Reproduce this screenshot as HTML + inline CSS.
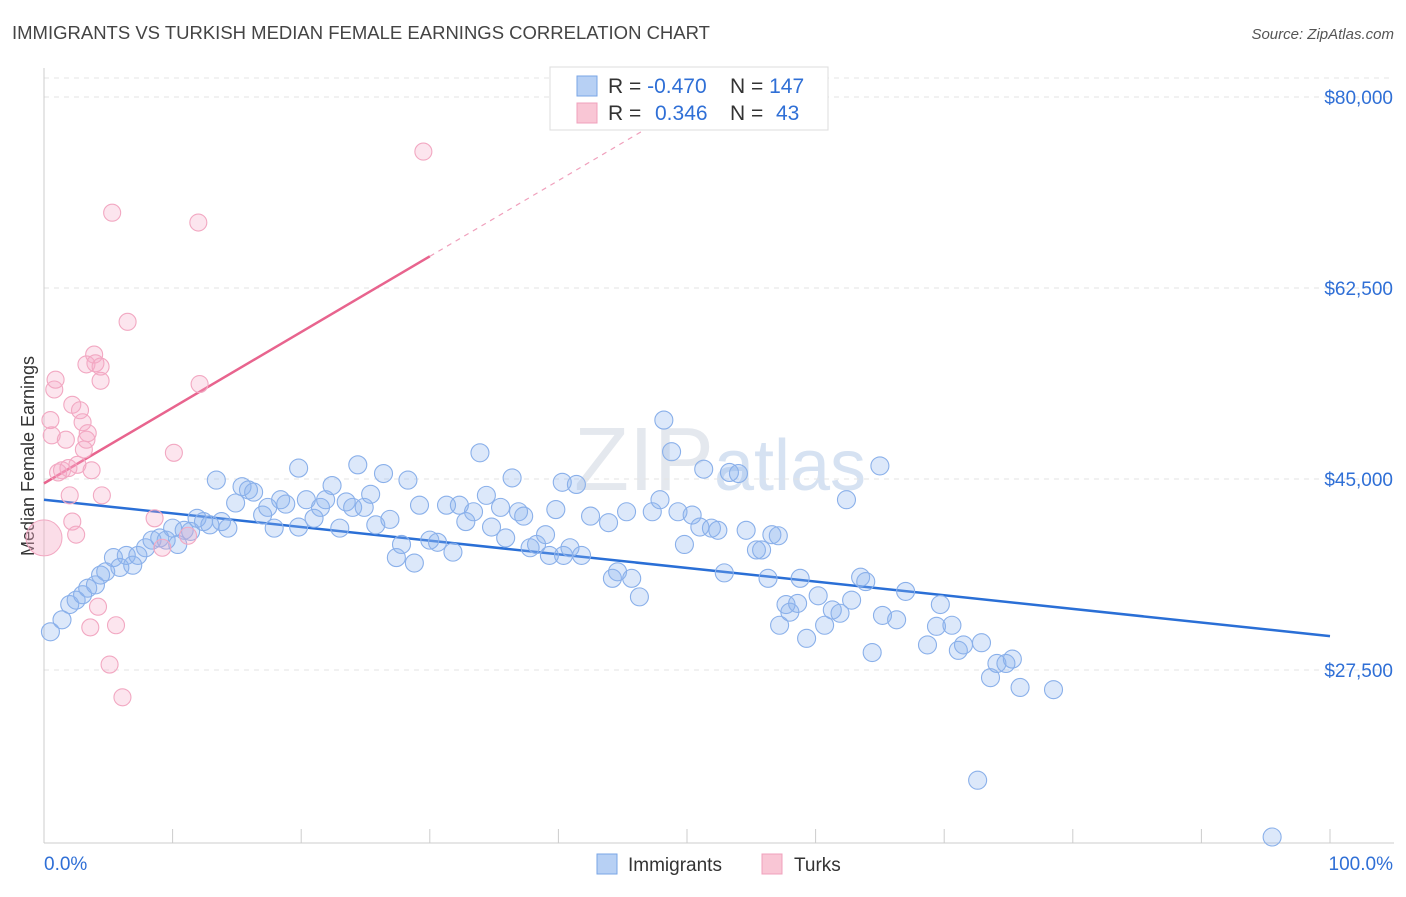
<!DOCTYPE html>
<html><head><meta charset="utf-8"><style>
body{margin:0;background:#fff;font-family:"Liberation Sans",sans-serif}
svg text{font-family:"Liberation Sans",sans-serif}
</style></head><body>
<svg id="chart" width="1406" height="892" xmlns="http://www.w3.org/2000/svg">
<text x="12" y="39" font-size="18.5" fill="#444">IMMIGRANTS VS TURKISH MEDIAN FEMALE EARNINGS CORRELATION CHART</text>
<text x="1394" y="39" font-size="15" fill="#555" font-style="italic" text-anchor="end">Source: ZipAtlas.com</text>
<text x="720" y="490" font-size="90" fill="#e4e8ee" text-anchor="middle" font-family="Liberation Serif">ZIP<tspan fill="#d6e2f2" font-family="Liberation Sans" font-size="72">atlas</tspan></text>
<g id="grid"></g>
<g id="axes"></g>
<text transform="translate(34,456) rotate(-90)" font-size="18" fill="#333" text-anchor="middle">Median Female Earnings</text>
<g id="lines"></g>
<g id="points"></g>
<g>
<rect x="550" y="67" width="278" height="63" fill="#fff" stroke="#ddd"/>
<rect x="577" y="76" width="20" height="20" fill="#b7d0f4" stroke="#7aa6e6"/>
<rect x="577" y="103" width="20" height="20" fill="#f9c6d5" stroke="#f0a0bc"/>
<text x="608" y="93" font-size="21" fill="#333">R = <tspan fill="#2f6fd6">-0.470</tspan></text>
<text x="730" y="93" font-size="21" fill="#333">N = <tspan fill="#2f6fd6">147</tspan></text>
<text x="608" y="120" font-size="21" fill="#333">R = </text><text x="655" y="120" font-size="21" fill="#2f6fd6">0.346</text>
<text x="730" y="120" font-size="21" fill="#333">N = </text><text x="776" y="120" font-size="21" fill="#2f6fd6">43</text>
</g>
<g>
<rect x="597" y="854" width="20" height="20" fill="#b7d0f4" stroke="#7aa6e6"/>
<text x="628" y="871" font-size="19" fill="#333">Immigrants</text>
<rect x="762" y="854" width="20" height="20" fill="#f9c6d5" stroke="#f0a0bc"/>
<text x="794" y="871" font-size="19" fill="#333">Turks</text>
</g>
</svg>
<script>
const yTicks=[80000,62500,45000,27500];
const yTickLabels=["$80,000","$62,500","$45,000","$27,500"];
const xEndLabels=["0.0%","100.0%"];
const immX=[0.5,1.4,2.0,2.5,3.0,3.4,4.0,4.4,4.8,5.4,5.9,6.4,6.9,7.3,7.9,8.4,9.0,9.5,10.0,10.4,10.9,11.4,11.9,12.4,12.9,13.4,13.8,14.3,14.9,15.4,15.9,16.3,17.0,17.4,17.9,18.4,18.8,19.8,19.8,20.4,21.0,21.5,21.9,22.4,23.0,23.5,24.0,24.4,24.9,25.4,25.8,26.4,26.9,27.4,27.8,28.3,28.8,29.2,30.0,30.6,31.3,31.8,32.3,32.8,33.4,33.9,34.4,34.8,35.5,35.9,36.4,36.9,37.3,37.8,38.3,39.0,39.3,39.8,40.3,40.4,40.9,41.4,41.8,42.5,43.9,44.2,44.6,45.3,45.7,46.3,47.3,47.9,48.2,48.8,49.3,49.8,50.4,51.0,51.3,51.9,52.4,52.9,53.3,54.0,54.6,55.4,55.8,56.3,56.6,57.1,57.2,57.7,58.0,58.6,58.8,59.3,60.2,60.7,61.3,61.9,62.4,62.8,63.5,63.9,64.4,65.0,65.2,66.3,67.0,68.7,69.4,69.7,70.6,71.1,71.5,72.9,73.6,74.1,74.8,75.3,75.9,78.5,72.6,95.5];
const immY=[31.0,32.1,33.5,33.9,34.4,35.0,35.3,36.2,36.5,37.8,36.9,38.0,37.1,38.0,38.7,39.4,39.6,39.4,40.5,39.0,40.3,40.2,41.4,41.1,40.8,44.9,41.1,40.5,42.8,44.3,44.0,43.8,41.7,42.4,40.5,43.1,42.7,40.6,46.0,43.1,41.4,42.4,43.1,44.4,40.5,42.9,42.4,46.3,42.4,43.6,40.8,45.5,41.3,37.8,39.0,44.9,37.3,42.6,39.4,39.2,42.6,38.3,42.6,41.1,42.0,47.4,43.5,40.6,42.4,39.6,45.1,42.0,41.6,38.7,39.0,39.9,38.0,42.2,44.7,38.0,38.7,44.5,38.0,41.6,41.0,35.9,36.5,42.0,35.9,34.2,42.0,43.1,50.4,47.5,42.0,39.0,41.7,40.6,45.9,40.5,40.3,36.4,45.6,45.5,40.3,38.5,38.5,35.9,39.9,39.8,31.6,33.5,32.8,33.6,35.9,30.4,34.3,31.6,33.0,32.7,43.1,33.9,36.0,35.6,29.1,46.2,32.5,32.1,34.7,29.8,31.5,33.5,31.6,29.3,29.8,30.0,26.8,28.1,28.1,28.5,25.9,25.7,17.4,12.2];
const turkX=[0.5,0.6,0.8,0.9,1.1,1.4,1.7,1.9,2.0,2.2,2.2,2.5,2.6,2.8,3.0,3.1,3.3,3.3,3.4,3.6,3.7,3.9,4.0,4.2,4.4,4.4,4.5,5.1,5.3,5.6,6.1,6.5,8.6,9.2,10.1,11.2,12.0,12.1,29.5];
const turkY=[50.4,49.0,53.2,54.1,45.6,45.8,48.6,46.0,43.5,41.1,51.8,39.9,46.3,51.3,50.2,47.7,55.5,48.6,49.2,31.4,45.8,56.4,55.6,33.3,54.0,55.3,43.5,28.0,69.4,31.6,25.0,59.4,41.4,38.7,47.4,39.8,68.5,53.7,75.0];
const bigTurkX=[0], bigTurkY=[39.6];
const immTrend=[43.1,30.6];
const turkTrend=[44.6,65.4,77.9];
const turkTrendX=[0,30,48];

const NS="http://www.w3.org/2000/svg";
const xs=p=>44+p*12.86;
const ys=k=>97+(80-k)*191/17.5;
function mk(tag,attrs,parent){const e=document.createElementNS(NS,tag);for(const k in attrs)e.setAttribute(k,attrs[k]);parent.appendChild(e);return e;}
const grid=document.getElementById('grid'),axes=document.getElementById('axes'),lines=document.getElementById('lines'),pts=document.getElementById('points');
mk('line',{x1:44,y1:78,x2:1394,y2:78,stroke:'#e6e6e6','stroke-dasharray':'5,5'},grid);
yTicks.forEach((t,i)=>{
  const y=ys(t/1000);
  const g=mk('line',{x1:44,y1:y,x2:1394,y2:y,stroke:'#e3e3e3','stroke-dasharray':'5,5'},grid);
  
  
  const tx=mk('text',{x:1393,y:y+7,'font-size':19,fill:'#2f6fd6','text-anchor':'end'},axes);
  tx.textContent=yTickLabels[i];
  
  
});
mk('line',{x1:44,y1:68,x2:44,y2:843,stroke:'#ccc'},axes);
mk('line',{x1:44,y1:843,x2:1394,y2:843,stroke:'#ccc'},axes);
for(let i=0;i<=10;i++){const t=mk('line',{x1:xs(i*10),y1:829,x2:xs(i*10),y2:843,stroke:'#ccc'},axes);
  
  }
const l0=mk('text',{x:44,y:870,'font-size':19,fill:'#2f6fd6'},axes);l0.textContent=xEndLabels[0];


const l1=mk('text',{x:1393,y:870,'font-size':19,fill:'#2f6fd6','text-anchor':'end'},axes);l1.textContent=xEndLabels[1];



immX.forEach((x,i)=>{const c=mk('circle',{cx:xs(x),cy:ys(immY[i]),r:9,fill:'rgba(140,180,240,0.3)',stroke:'#8ab0ea','stroke-width':1.1},pts);
  
  });
turkX.forEach((x,i)=>{const c=mk('circle',{cx:xs(x),cy:ys(turkY[i]),r:8.5,fill:'rgba(245,170,198,0.3)',stroke:'#f2a8c2','stroke-width':1.1},pts);
  
  });
bigTurkX.forEach((x,i)=>{const c=mk('circle',{cx:xs(x),cy:ys(bigTurkY[i]),r:18,fill:'rgba(245,170,198,0.4)',stroke:'#f2a8c2'},pts);
  
  });

const bl=mk('line',{x1:xs(0),y1:ys(immTrend[0]),x2:xs(100),y2:ys(immTrend[1]),stroke:'#2a6fd6','stroke-width':2.5},lines);


const pl=mk('line',{x1:xs(turkTrendX[0]),y1:ys(turkTrend[0]),x2:xs(turkTrendX[1]),y2:ys(turkTrend[1]),stroke:'#e8648e','stroke-width':2.5},lines);


const pd=mk('line',{x1:xs(turkTrendX[1]),y1:ys(turkTrend[1]),x2:xs(turkTrendX[2]),y2:ys(turkTrend[2]),stroke:'#f0a0bc','stroke-width':1.2,'stroke-dasharray':'5,5'},lines);


</script>
</body></html>
